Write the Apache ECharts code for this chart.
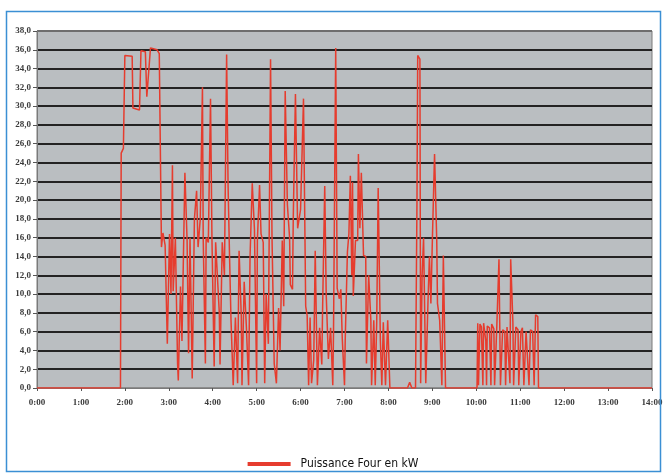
<!DOCTYPE html>
<html>
<head>
<meta charset="utf-8">
<script src="https://cdn.jsdelivr.net/npm/echarts@6/dist/echarts.min.js"></script>
<style>
html,body{margin:0;padding:0;background:#fff;}
#chart{width:666px;height:476px;}
</style>
</head>
<body>
<div id="chart"></div>
<script>
// Time of each sample, in minutes after 0:00
var minutes = [0,114,115,118,120,130,131,140,142,148,150,152,155,164,167,170,172,175,178,181,183,185,186,189,192,193,196,198,202,205,207,209,212,215,218,220,223,226,227,230,231,234,237,239,242,244,246,249,250,253,256,259,261,263,265,268,271,274,276,279,280,283,286,289,291,294,297,300,301,304,306,309,311,313,316,319,321,324,327,330,332,335,337,339,342,345,346,349,350,353,356,358,360,364,367,369,371,373,375,378,380,383,386,389,390,393,395,398,401,404,405,408,410,413,415,417,420,421,424,426,428,430,431,432,435,438,439,441,443,446,449,450,453,456,457,460,462,464,466,469,471,473,476,479,482,506,509,512,517,519,520,523,524,526,528,531,534,536,538,540,543,546,547,550,553,555,558,601,602,603,605,607,609,610,613,614,615,618,620,621,624,625,628,631,632,633,636,639,640,642,644,646,647,650,651,654,657,658,661,663,665,668,670,672,674,677,679,681,684,685,840];
// Oven power in kW
var power = [0,0,25,25.5,35.4,35.3,29.8,29.6,35.9,35.8,31,31.2,36.2,36,35.6,15,16.5,15.2,4.7,16.4,10,23.7,10.3,16,2.6,0.8,10.8,5,22.9,15.7,3.7,16,1,18,21,15,18,32,16,2.6,16,15.5,30.8,15.7,2.3,15.5,15.7,8,2.5,15.5,12,35.5,21.5,14,7.2,0.3,7.5,0.5,14.6,7.7,0.3,11.3,6.5,0.3,14,21.8,16.9,0.5,15.7,21.6,16.4,15.5,0.5,10,4.7,35,16,2.6,0.5,8.5,4,15.7,8.7,31.6,19.5,16,11,10.5,18,31.3,17,16.9,19,30.8,8.7,7.7,0.3,7.5,0.5,3,14.6,0.3,6.4,2.5,8,21.5,10,3.1,6.4,0.3,6,36.2,10.6,9.5,10.5,5.2,0.3,5.2,14.5,16.4,22.6,12,21.9,9.8,15.7,15.7,24.9,17,22.9,14.1,14,2.6,12,7.2,0.3,7.2,0.3,7,21.3,5,0.3,7,0.3,7.2,0,0,0.6,0,0,20,35.4,35,0.5,12,16,0.5,9.1,14,9,15.7,24.9,15.7,9,7.2,0.3,14.1,0,0,6.9,0.3,6.8,6.5,0.3,6.9,5,0.3,6.6,6.4,0.3,6.8,6.3,0.3,6.5,13.7,7,0.3,6.2,6,0.3,6.5,6.3,0.5,13.7,7,0.3,6.5,6.2,0.3,6,6.4,0.3,6,5.8,0.3,6.2,6,0.3,7.8,7.6,0,0];
var hourLabels = ['0:00','1:00','2:00','3:00','4:00','5:00','6:00','7:00','8:00','9:00','10:00','11:00','12:00','13:00','14:00'];
var seriesName = 'Puissance Four en kW';

var pts = minutes.map(function(m, i){ return [m, power[i]]; });
var splitColors = ['#8c8c8c'];
for (var k = 0; k < 18; k++) splitColors.push('#232323');
splitColors.push('#6e6e6e');

var chart = echarts.init(document.getElementById('chart'), null, {renderer:'canvas'});
chart.setOption({
  animation:false,
  backgroundColor:'#ffffff',
  grid:{left:37, right:14, top:31, bottom:88, show:true, backgroundColor:'#babec1', borderColor:'#7a7a7a', borderWidth:1, containLabel:false},
  legend:{
    data:[{name:seriesName, icon:'rect'}],
    bottom:1, left:'center',
    itemWidth:43, itemHeight:4, itemGap:10,
    textStyle:{fontFamily:"'Liberation Sans Narrow','Arial Narrow','DejaVu Sans Condensed',sans-serif", fontSize:12, color:'#111', padding:[0,0,0,5]}
  },
  xAxis:{
    type:'value', min:0, max:840, interval:60,
    axisLine:{show:true, lineStyle:{color:'#7a7a7a', width:1}},
    axisTick:{show:true, length:3, lineStyle:{color:'#555'}},
    splitLine:{show:false},
    axisLabel:{
      margin:10,
      fontFamily:"'Liberation Serif','DejaVu Serif',serif", fontSize:9, fontWeight:'bold', color:'#3a3a3a',
      formatter:function(v){ return hourLabels[Math.round(v/60)]; }
    }
  },
  yAxis:{
    type:'value', min:0, max:38, interval:2,
    axisLine:{show:true, lineStyle:{color:'#7a7a7a', width:1}},
    axisTick:{show:true, length:4, lineStyle:{color:'#555'}},
    splitLine:{show:true, lineStyle:{color:splitColors, width:2}},
    axisLabel:{
      margin:6,
      fontFamily:"'Liberation Serif','DejaVu Serif',serif", fontSize:9, fontWeight:'bold', color:'#3a3a3a',
      formatter:function(v){ return v.toFixed(1).replace('.', ','); }
    }
  },
  series:[{
    name:seriesName, type:'line', data:pts,
    showSymbol:false, symbol:'none', sampling:'none',
    lineStyle:{color:'#e63c2e', width:1.5},
    itemStyle:{color:'#e63c2e'}
  }],
  graphic:[{
    type:'rect', silent:true, z:100,
    shape:{x:6.5, y:11.5, width:654, height:460},
    style:{fill:'none', stroke:'#3b8fd4', lineWidth:1.5}
  }]
});
</script>
</body>
</html>
